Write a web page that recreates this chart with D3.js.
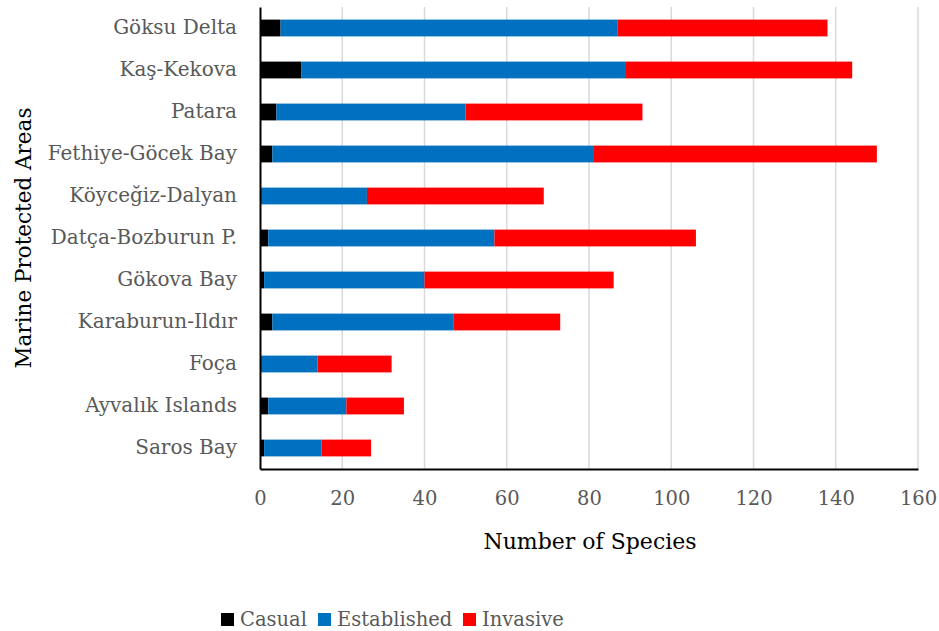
<!DOCTYPE html>
<html>
<head>
<meta charset="utf-8">
<script src="https://cdn.jsdelivr.net/npm/d3@7"></script>
<style>
  body { margin: 0; background: #fff; }
  svg { display: block; }
</style>
</head>
<body>
<svg id="chart" width="939" height="631"></svg>
<script>
const categories = ["Göksu Delta", "Kaş-Kekova", "Patara", "Fethiye-Göcek Bay", "Köyceğiz-Dalyan",
  "Datça-Bozburun P.", "Gökova Bay", "Karaburun-Ildır", "Foça", "Ayvalık Islands", "Saros Bay"];
const casual      = [5, 10, 4, 3, 0, 2, 1, 3, 0, 2, 1];
const established = [82, 79, 46, 78, 26, 55, 39, 44, 14, 19, 14];
const invasive    = [51, 55, 43, 69, 43, 49, 46, 26, 18, 14, 12];
const seriesNames = ["Casual", "Established", "Invasive"];
const seriesColors = ["#000000", "#0070c0", "#ff0000"];
const xTicks = [0, 20, 40, 60, 80, 100, 120, 140, 160];

const FONT = "'DejaVu Serif', 'Liberation Serif', serif";
const svg = d3.select("#chart");
const margin = { left: 260, right: 21, top: 7, bottom: 162 };
const W = 939, H = 631;
const x = d3.scaleLinear().domain([0, 160]).range([margin.left, W - margin.right]);
const y = d3.scaleBand().domain(categories).range([margin.top, H - margin.bottom]).paddingInner(0.6).paddingOuter(0.3);

const rows = categories.map((c, i) => ({ cat: c, Casual: casual[i], Established: established[i], Invasive: invasive[i] }));
const stack = d3.stack().keys(seriesNames)(rows);

// gridlines
svg.append("g").selectAll("line").data(xTicks.filter(t => t > 0)).join("line")
  .attr("x1", d => x(d)).attr("x2", d => x(d))
  .attr("y1", margin.top).attr("y2", H - margin.bottom)
  .attr("stroke", "#d9d9d9").attr("stroke-width", 1.5);

// bars
svg.append("g").selectAll("g").data(stack).join("g")
  .attr("fill", (d, i) => seriesColors[i])
  .selectAll("rect").data(d => d).join("rect")
  .attr("x", d => x(d[0]))
  .attr("width", d => Math.max(0, x(d[1]) - x(d[0])))
  .attr("y", d => y(d.data.cat))
  .attr("height", y.bandwidth());

// axes
const xAxis = svg.append("g").attr("transform", `translate(0,${H - margin.bottom})`)
  .call(d3.axisBottom(x).tickValues(xTicks).tickSize(0).tickPadding(22));
xAxis.select(".domain").attr("stroke", "#000").attr("stroke-width", 2);
xAxis.selectAll("text").attr("font-family", FONT).attr("font-size", 19.5).attr("fill", "#595959");

const yAxis = svg.append("g").attr("transform", `translate(${margin.left},0)`)
  .call(d3.axisLeft(y).tickSize(0).tickPadding(23));
yAxis.select(".domain").attr("stroke", "#000").attr("stroke-width", 2);
yAxis.selectAll("text").attr("font-family", FONT).attr("font-size", 20).attr("fill", "#595959");

// titles
svg.append("text").attr("x", 590).attr("y", 549).attr("text-anchor", "middle")
  .attr("font-family", FONT).attr("font-size", 22).attr("fill", "#000").text("Number of Species");
svg.append("text").attr("transform", "translate(31,238) rotate(-90)").attr("text-anchor", "middle")
  .attr("font-family", FONT).attr("font-size", 21.5).attr("fill", "#000").text("Marine Protected Areas");

// legend
const legendX = [221, 318, 463];
const lg = svg.append("g").selectAll("g").data(seriesNames).join("g")
  .attr("transform", (d, i) => `translate(${legendX[i]},613)`);
lg.append("rect").attr("width", 13).attr("height", 13).attr("fill", (d, i) => seriesColors[i]);
lg.append("text").attr("x", 19).attr("y", 13).attr("font-family", FONT).attr("font-size", 19.5)
  .attr("fill", "#595959").text(d => d);
</script>
</body>
</html>
